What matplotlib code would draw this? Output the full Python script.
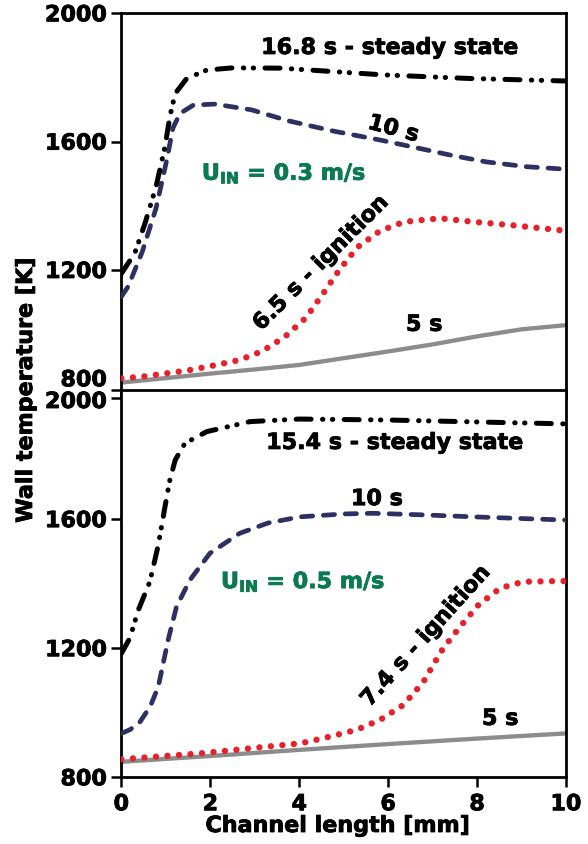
import matplotlib
matplotlib.use('Agg')
import matplotlib.pyplot as plt
import matplotlib.patheffects as pe
from matplotlib.transforms import ScaledTranslation

plt.rcParams['font.family'] = ['DejaVu Sans']
plt.rcParams['font.weight'] = 'bold'
plt.rcParams['lines.scale_dashes'] = False
plt.rcParams['mathtext.fontset'] = 'dejavusans'

# ---------------- data ----------------
# Top panel: U_IN = 0.3 m/s
top_ss_x = [0, 0.3, 0.53, 0.78, 0.98, 1.09, 1.21, 1.47, 1.92, 2.5, 3.6, 4.8, 5.9, 7.8, 10]
top_ss_T = [1189, 1252, 1345, 1460, 1584, 1678, 1750, 1797, 1823, 1830, 1829, 1818, 1808, 1797, 1789]
top_10_x = [0, 0.15, 0.47, 0.78, 1.02, 1.16, 1.32, 1.62, 2.1, 2.93, 3.75, 4.8, 5.82, 6.6, 7.4, 8.2, 9.1, 10]
top_10_T = [1117, 1148, 1257, 1393, 1543, 1643, 1688, 1714, 1717, 1699, 1665, 1632, 1605, 1582, 1558, 1537, 1522, 1514]
top_ig_x = [0, 0.44, 1.02, 1.54, 2.14, 2.67, 3.17, 3.68, 4.15, 4.54, 4.9, 5.31, 5.82, 6.36, 7.17, 7.92, 8.74, 9.79, 10]
top_ig_T = [862, 867, 878, 888, 904, 920, 947, 992, 1051, 1127, 1200, 1271, 1322, 1350, 1361, 1350, 1340, 1325, 1322]
top_5_x = [0, 1, 2, 3, 4, 5, 6, 7, 8, 9, 10]
top_5_T = [849, 863, 877, 890, 904, 925, 946, 968, 993, 1015, 1028]

# Bottom panel: U_IN = 0.5 m/s
bot_ss_x = [0, 0.19, 0.38, 0.64, 0.83, 0.98, 1.09, 1.21, 1.43, 1.92, 2.89, 4, 6, 8, 10]
bot_ss_T = [1184, 1231, 1318, 1406, 1520, 1638, 1721, 1783, 1835, 1871, 1902, 1910, 1907, 1901, 1895]
bot_10_x = [0, 0.2, 0.42, 0.65, 0.83, 1.05, 1.24, 1.54, 1.99, 2.66, 3.3, 4.02, 5.0, 5.67, 6.8, 7.92, 10]
bot_10_T = [936, 948, 972, 1020, 1081, 1225, 1329, 1411, 1494, 1556, 1588, 1607, 1616, 1618, 1613, 1607, 1597]
bot_ig_x = [0, 1.77, 3.27, 4.02, 4.54, 5.29, 5.82, 6.34, 6.79, 7.02, 7.24, 7.62, 8.03, 8.52, 9.04, 9.87, 10]
bot_ig_T = [856, 874, 895, 905, 921, 947, 978, 1024, 1095, 1150, 1200, 1267, 1334, 1386, 1406, 1408, 1408]
bot_5_x = [0, 2, 4, 6, 8, 10]
bot_5_T = [848, 866, 885, 903, 920, 936]

x_ticks = [0, 2, 4, 6, 8, 10]
y_ticks = [800, 1200, 1600, 2000]

top_labels = ['16.8 s - steady state', '10 s', r'U$_{\mathbf{IN}}$ = 0.3 m/s', '6.5 s - ignition', '5 s']
bot_labels = ['15.4 s - steady state', '10 s', r'U$_{\mathbf{IN}}$ = 0.5 m/s', '7.4 s - ignition', '5 s']

# ---------------- styles ----------------
C_BLACK = '#000000'
C_NAVY = '#2e3062'
C_RED = '#e8202a'
C_GRAY = '#8c8c8c'
C_GREEN = '#0b7a50'

W, H = 588, 844
fig = plt.figure(figsize=(W / 100, H / 100), dpi=100)


def rect(l, t, r, b):
    return [l / W, 1 - b / H, (r - l) / W, (b - t) / H]


def heavy(t, color='black'):
    t.set_path_effects([pe.withStroke(linewidth=0.6, foreground=color)])
    return t


ax1 = fig.add_axes(rect(121.4, 13.3, 566, 398.3))
ax2 = fig.add_axes(rect(121.4, 390, 566, 777.3))


def draw(ax, sx, sT, tx, tT, ix, iT, fx, fT):
    ax.plot(fx, fT, color=C_GRAY, lw=3.1, solid_capstyle='butt', zorder=2)
    ax.plot(ix, iT, color=C_RED, lw=4.6, linestyle=(0, (0.01, 8.3)),
            dash_capstyle='round', zorder=3)
    ax.plot(tx, tT, color=C_NAVY, lw=3.4, linestyle=(0, (8.1, 7.7)),
            dash_capstyle='round', zorder=3)
    ax.plot(sx, sT, color=C_BLACK, lw=3.6,
            linestyle=(0, (10.8, 8.2, 0.3, 6.8, 0.3, 8.2)),
            dash_capstyle='round', zorder=4)


draw(ax1, top_ss_x, top_ss_T, top_10_x, top_10_T, top_ig_x, top_ig_T, top_5_x, top_5_T)
draw(ax2, bot_ss_x, bot_ss_T, bot_10_x, bot_10_T, bot_ig_x, bot_ig_T, bot_5_x, bot_5_T)

for ax in (ax1, ax2):
    ax.set_xlim(0, 10)
    ax.set_ylim(800, 2000)
    ax.set_facecolor('white')
    ax.set_yticks(y_ticks, [str(v) for v in y_ticks])
    ax.set_xticks(x_ticks, [str(v) for v in x_ticks])
    for s in ax.spines.values():
        s.set_linewidth(2.0)
    ax.tick_params(axis='both', direction='out', length=7.2, width=1.8,
                   labelsize=16, pad=3)
    ax.tick_params(axis='x', pad=5)
    for lab in ax.get_xticklabels() + ax.get_yticklabels():
        heavy(lab)

ax1.tick_params(axis='x', bottom=False, labelbottom=False)

# label adjustments mimicking the stacked panels
t800 = ax1.yaxis.get_major_ticks()[0]
t800.label1.set_transform(t800.label1.get_transform() +
                          ScaledTranslation(0, 20 / 100, fig.dpi_scale_trans))
t2000 = ax2.yaxis.get_major_ticks()[-1]
t2000.label1.set_transform(t2000.label1.get_transform() +
                           ScaledTranslation(0, -10 / 100, fig.dpi_scale_trans))

fs = 16
kw = dict(fontsize=fs, fontweight='bold', ha='center', va='center')
# top annotations
heavy(ax1.text(6.04, 1892, top_labels[0], **kw))
heavy(ax1.text(6.12, 1639, top_labels[1], rotation=-15, rotation_mode='anchor', **kw))
heavy(ax1.text(3.66, 1500, top_labels[2], color=C_GREEN, **kw), C_GREEN)
heavy(ax1.text(4.49, 1222, top_labels[3], rotation=45, rotation_mode='anchor', **kw))
heavy(ax1.text(6.81, 1029, top_labels[4], **kw))

# bottom annotations
heavy(ax2.text(6.15, 1836, bot_labels[0], **kw))
heavy(ax2.text(5.75, 1662, bot_labels[1], **kw))
heavy(ax2.text(4.09, 1405, bot_labels[2], color=C_GREEN, **kw), C_GREEN)
heavy(ax2.text(6.85, 1238, bot_labels[3], rotation=48, rotation_mode='anchor', **kw))
heavy(ax2.text(8.52, 981, bot_labels[4], **kw))

heavy(fig.text(26 / W, 1 - 390 / H, 'Wall temperature [K]', fontsize=16, fontweight='bold',
               rotation=90, ha='center', va='center'))
heavy(fig.text(338 / W, 1 - 826 / H, 'Channel length [mm]', fontsize=16, fontweight='bold',
               ha='center', va='center'))

fig.savefig('out.png', dpi=100)
